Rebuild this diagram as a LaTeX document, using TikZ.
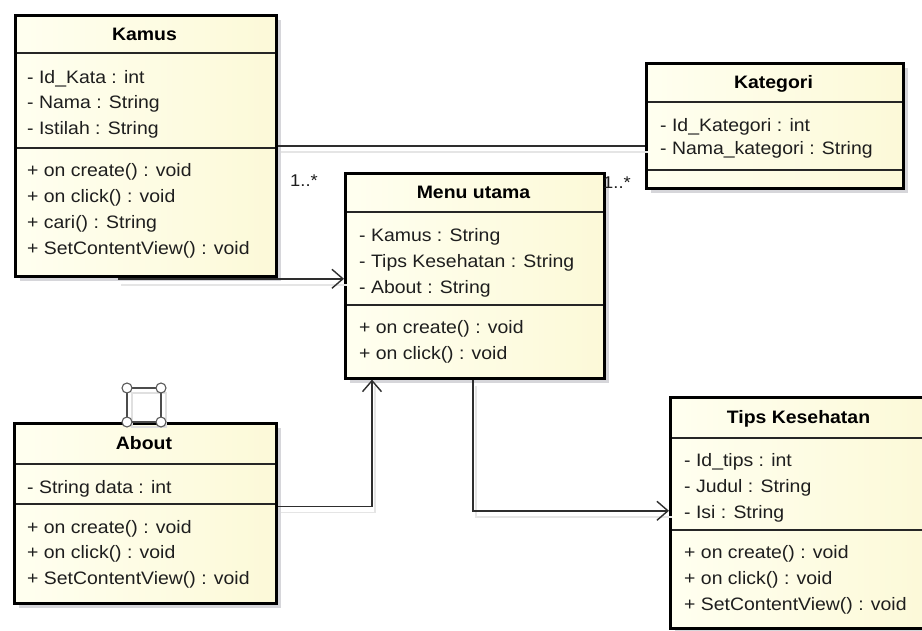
\documentclass[tikz,border=0pt]{standalone}
\usepackage{fontspec}
\setmainfont[FakeStretch=1.08]{Liberation Sans}
\usetikzlibrary{arrows.meta}

\definecolor{boxfill}{HTML}{FCF9D8}
\definecolor{boxlight}{HTML}{FFFFF0}
\definecolor{shadowc}{HTML}{D6D6DA}
\definecolor{linec}{HTML}{2E2E2E}
\definecolor{textc}{HTML}{1E1E1E}

\tikzset{
  classbox/.style={draw=black, line width=2.6pt, inner sep=0pt},
  rule/.style={draw=black!85, line width=1.3pt},
  member/.style={anchor=base west, inner sep=0pt, text=textc,
    font=\fontsize{18}{21}\selectfont},
  title/.style={inner sep=0pt, text height=13pt, text depth=0pt, text=black,
    font=\bfseries\fontsize{18}{21}\selectfont},
  link/.style={draw=linec, line width=1.5pt},
  linkshadow/.style={draw=black!10, line width=1.5pt,
    transform canvas={shift={(3pt,-6pt)}}},
  navarrow/.style={link, -{Straight Barb[length=11pt, width=19pt, line width=1.4pt]}},
  mult/.style={anchor=base west, inner sep=0pt, text=textc,
    font=\fontsize{17}{20}\selectfont},
}

% class frame: #1 name, #2 left, #3 top, #4 right, #5 bottom,
% #6 y of the line under the title, #7 y of the line between attributes and operations, #8 title
\newcommand\umlclass[8]{%
  \fill[shadowc] (#2+6,#3+6) rectangle (#4+6,#5+6);
  \shade[left color=boxlight, right color=boxfill] (#2,#3) rectangle (#4,#5);
  \draw[rule] (#2,#6) -- (#4,#6);
  \draw[rule] (#2,#7) -- (#4,#7);
  \node[classbox, anchor=north west, minimum width={#4-#2}, minimum height={#5-#3}] (#1) at (#2,#3) {};
  \node[title] (#1-name) at ({(#2+#4)/2},{(#3+#6)/2}) {#8};
}
% list of members: #1 name prefix, #2 x, #3 first baseline, #4 line step, #5 entries
\newcommand\umlmembers[5]{%
  \foreach \entry [count=\i] in {#5} {
    \node[member] (#1\i) at (#2,{#3+#4*(\i-1)}) {\entry};
  }
}

\begin{document}
\begin{tikzpicture}[x=1pt,y=-1pt]
\useasboundingbox (0,0) rectangle (922,630);
\fill[white] (0,0) rectangle (922,630);

% classes
\umlclass{kamus}{14}{14}{275}{275}{53}{148}{Kamus}
\umlmembers{kamus-a}{27}{83}{25.5}{{- Id\_Kata : int},{- Nama : String},{- Istilah : String}}
\umlmembers{kamus-o}{27}{176}{26}{{+ on create() : void},{+ on click() : void},{+ cari() : String},{+ SetContentView() : void}}

\umlclass{kategori}{645}{62}{902}{187}{102}{170}{Kategori}
\umlmembers{kategori-a}{660}{131}{23}{{- Id\_Kategori : int},{- Nama\_kategori : String}}

\umlclass{menu}{344}{172}{603}{377}{212}{305}{Menu utama}
\umlmembers{menu-a}{359}{241}{26}{{- Kamus : String},{- Tips Kesehatan : String},{- About : String}}
\umlmembers{menu-o}{359}{333}{26}{{+ on create() : void},{+ on click() : void}}

\umlclass{about}{13}{422}{275}{602}{464}{504}{About}
\umlmembers{about-a}{27}{493}{26}{{- String data : int}}
\umlmembers{about-o}{27}{533}{25.5}{{+ on create() : void},{+ on click() : void},{+ SetContentView() : void}}

\umlclass{tips}{669}{396}{928}{627}{438}{530}{Tips Kesehatan}
\umlmembers{tips-a}{684}{466}{26}{{- Id\_tips : int},{- Judul : String},{- Isi : String}}
\umlmembers{tips-o}{684}{558}{26}{{+ on create() : void},{+ on click() : void},{+ SetContentView() : void}}

% stereotype icon above About: faint offset outline, then the square with corner handles
\draw[draw=black!12, line width=1.3pt] (132,393) rectangle (166,427);
\draw[draw=black!70, line width=1.3pt] (127,388) rectangle (161,422);
\foreach \cx/\cy [count=\k] in {127/388,161/388,127/422,161/422}
  \draw[draw=black!65, fill=white, line width=1.1pt] (\cx,\cy) circle[radius=5pt];

% connector shadows
\draw[linkshadow] (kamus.east) -- (kamus.east -| kategori.west);
\draw[linkshadow] ([xshift=105pt]kamus.south west) |- ([yshift=-3pt]menu.west);
\draw[linkshadow] ([yshift=7pt]about.east) -| ([xshift=28pt]menu.south west);
\draw[linkshadow] ([xshift=129pt]menu.south west) |- ([yshift=2pt]tips.west);

% association Kamus -- Kategori
\draw[link] (kamus.east) -- (kamus.east -| kategori.west);
\node[mult] (mult-a) at (290,186) {1..*};
\node[mult] (mult-b) at (603,188) {1..*};

% navigations into and out of Menu utama
\draw[navarrow] ([xshift=105pt]kamus.south west) |- ([yshift=-3pt]menu.west);
\draw[navarrow] ([yshift=7pt]about.east) -| ([xshift=28pt]menu.south west);
\draw[navarrow] ([xshift=129pt]menu.south west) |- ([yshift=2pt]tips.west);
\end{tikzpicture}
\end{document}
